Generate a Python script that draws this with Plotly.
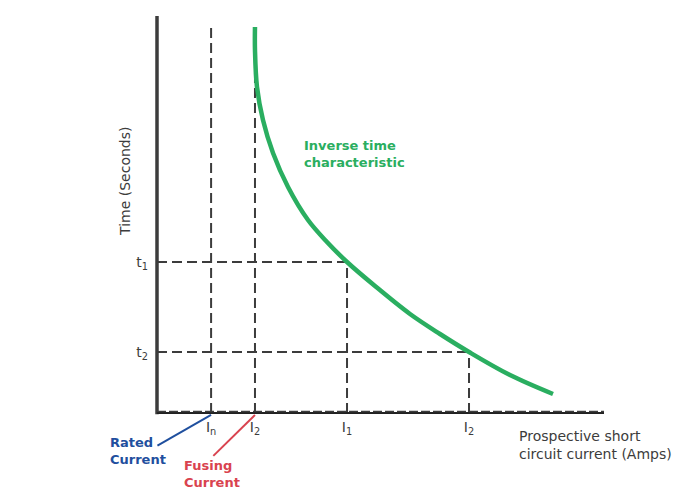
import plotly.graph_objects as go

# ---- data (arbitrary units: current on x, time on y) ----
curve_current = [21.92, 21.92, 22.37, 23.71, 25.95, 29.31, 33.78, 38.03, 42.51,
                 48.77, 56.60, 63.31, 69.80, 78.97, 88.59]
curve_time    = [97.23, 91.44, 82.12, 73.80, 65.49, 56.93, 48.61, 43.07, 38.04,
                 31.99, 24.94, 19.90, 15.37, 9.57, 4.79]

I_n = 12.1      # rated current
I_f = 21.92     # fusing current (I2)
I_1 = 42.51
I_2 = 69.80
t_1 = 38.04
t_2 = 15.37
guide_top = 97.2

x_tick_vals = [I_n, I_f, I_1, I_2]
x_tick_text = ["I<sub>n</sub>", "I<sub>2</sub>", "I<sub>1</sub>", "I<sub>2</sub>"]
y_tick_vals = [t_1, t_2]
y_tick_text = ["t<sub>1</sub>", "t<sub>2</sub>"]

DARK = "#3c3c3c"
GREEN = "#2aae60"
BLUE = "#1f4f9e"
RED = "#d9434f"
FONT = "DejaVu Sans"
DASH = "10px,5px"

# page body has an 8px margin: figure is shifted by 8px, sized to fit
W, H = 681, 488
L, T, PW, PH = 149, 8, 447, 397

fig = go.Figure()

def dashed(xs, ys):
    fig.add_trace(go.Scatter(x=xs, y=ys, mode="lines",
                             line=dict(color=DARK, width=2, dash=DASH),
                             hoverinfo="skip", showlegend=False))

# vertical guides
dashed([I_n, I_n], [0, guide_top])
dashed([I_f, I_f], [0, guide_top])
dashed([I_1, I_1], [0, t_1])
dashed([I_2, I_2], [0, t_2])
# horizontal guides
dashed([0, I_1], [t_1, t_1])
dashed([0, I_2], [t_2, t_2])

# inverse time curve
fig.add_trace(go.Scatter(x=curve_current, y=curve_time, mode="lines",
                         line=dict(color=GREEN, width=4.5, shape="spline", smoothing=1.0),
                         hoverinfo="skip", showlegend=False))

# axes drawn as paper shapes (not clipped)
fig.add_shape(type="line", xref="paper", yref="paper", x0=0, y0=-0.003, x1=0, y1=1.0,
              line=dict(color=DARK, width=3.5), layer="above")
fig.add_shape(type="line", xref="paper", yref="paper", x0=0, y0=0, x1=1.0, y1=0,
              line=dict(color="#222222", width=2), layer="above")
fig.add_shape(type="line", xref="paper", yref="paper", x0=0, y0=0.004, x1=1.0, y1=0.004,
              line=dict(color=DARK, width=1.5, dash="9px,3px"), layer="above")

# leader lines for rated and fusing current
fig.add_shape(type="line", xref="paper", yref="paper", x0=0.001, y0=-0.082,
              x1=I_n / 100, y1=-0.005, line=dict(color=BLUE, width=2), layer="above")
fig.add_shape(type="line", xref="paper", yref="paper", x0=0.126, y0=-0.108,
              x1=I_f / 100, y1=-0.005, line=dict(color=RED, width=2), layer="above")

ann = [
    dict(x=0.324, y=0.652, text="<b>Inverse time<br>characteristic</b>", xanchor="left",
         yanchor="middle", align="left", font=dict(color=GREEN, size=13, family=FONT)),
    dict(x=-0.110, y=-0.096, text="<b>Rated<br>Current</b>", xanchor="left",
         yanchor="middle", align="left", font=dict(color=BLUE, size=13, family=FONT)),
    dict(x=0.056, y=-0.154, text="<b>Fusing<br>Current</b>", xanchor="left",
         yanchor="middle", align="left", font=dict(color=RED, size=13, family=FONT)),
    dict(x=0.805, y=-0.080, text="Prospective short<br>circuit current (Amps)", xanchor="left",
         yanchor="middle", align="left", font=dict(color=DARK, size=14, family=FONT)),
    dict(x=-0.072, y=0.584, text="Time (Seconds)", textangle=-90, xanchor="center",
         yanchor="middle", font=dict(color=DARK, size=14, family=FONT)),
]
for a in ann:
    a.update(xref="paper", yref="paper", showarrow=False)
fig.update_layout(annotations=ann)

fig.update_layout(
    width=W, height=H,
    margin=dict(l=L, r=W - L - PW, t=T, b=H - T - PH, autoexpand=False),
    paper_bgcolor="white", plot_bgcolor="white",
    xaxis=dict(range=[0, 100], showgrid=False, zeroline=False, showline=False,
               tickvals=x_tick_vals, ticktext=x_tick_text, ticks="",
               ticklabelstandoff=4,
               tickfont=dict(color=DARK, size=14, family=FONT)),
    yaxis=dict(range=[0, 100], showgrid=False, zeroline=False, showline=False,
               tickvals=y_tick_vals, ticktext=y_tick_text, ticks="",
               ticklabelstandoff=8,
               tickfont=dict(color=DARK, size=14, family=FONT)),
    showlegend=False,
)

fig.write_html("out.html")
